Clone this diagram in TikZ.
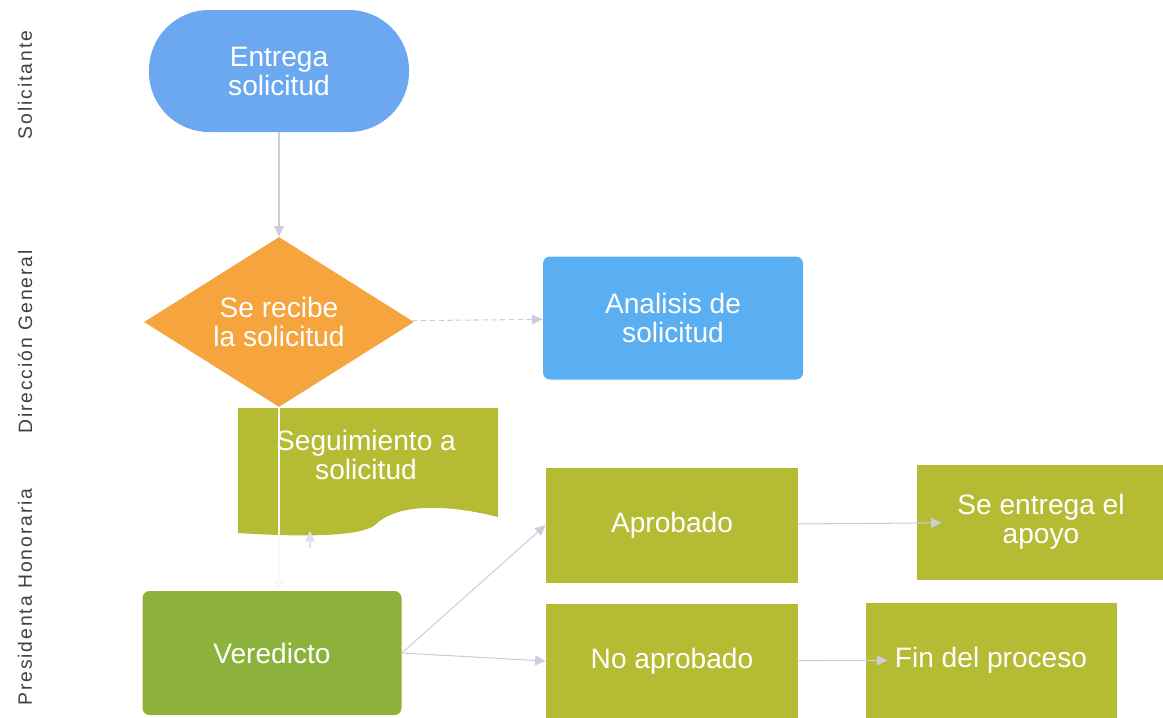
\documentclass[tikz,border=0pt]{standalone}
\usepackage{fontspec}
\setmainfont{Liberation Sans}
\usetikzlibrary{shapes.geometric,arrows.meta}
\definecolor{azul}{HTML}{6CA8F0}
\definecolor{celeste}{HTML}{5AAEF2}
\definecolor{naranja}{HTML}{F5A43E}
\definecolor{oliva}{HTML}{B6BB34}
\definecolor{verde}{HTML}{8DB23C}
\definecolor{gris}{HTML}{CDCDDE}
\begin{document}
\begin{tikzpicture}[caja/.style={rectangle,fill=oliva,text=white,minimum width=5.04cm,minimum height=2.3cm,align=center,inner sep=0pt,font=\fontsize{16}{16.5}\selectfont},
    flecha/.style={-{Triangle[length=6pt,width=5.5pt]},draw=gris,line width=0.6pt},
    carril/.style={rotate=90,text=black!75,font=\fontsize{11}{13}\selectfont\addfontfeature{LetterSpace=10}}]
    \useasboundingbox (0,0) rectangle (23.26,-14.34);

    \node[carril] (l1) at (0.5,-1.7) {Solicitante};
    \node[carril] (l2) at (0.5,-6.84) {Dirección General};
    \node[carril] (l3) at (0.5,-11.94) {Presidenta Honoraria};

    \node[caja,fill=azul,minimum width=5.2cm,minimum height=2.44cm,rounded corners=1.2cm] (ent) at (5.58,-1.42) {Entrega\\solicitud};
    \node[caja,fill=naranja,diamond,aspect=1.59,minimum width=5.4cm,minimum height=3.4cm] (rec) at (5.58,-6.44) {Se recibe\\la solicitud};
    \node[caja,fill=celeste,minimum width=5.2cm,minimum height=2.46cm,rounded corners=4pt] (ana) at (13.46,-6.36) {Analisis de\\solicitud};

    % documento con borde ondulado
    \fill[oliva] (4.76,-8.16) -- (9.96,-8.16) -- (9.96,-10.34)
        .. controls (8.8,-10.05) and (7.9,-10.1) .. (7.5,-10.5)
        .. controls (7.2,-10.74) and (6.0,-10.74) .. (4.76,-10.66) -- cycle;
    \node[caja,fill=none,minimum width=0pt,minimum height=0pt] (seg) at (7.32,-9.1) {Seguimiento a\\solicitud};
    \coordinate (segb) at (6.2,-10.62);
    \coordinate (sega) at (6.2,-10.95);

    \node[caja,fill=verde,minimum width=5.18cm,minimum height=2.48cm,rounded corners=4pt] (ver) at (5.44,-13.06) {Veredicto};
    \node[caja] (apr) at (13.44,-10.5) {Aprobado};
    \node[caja] (noa) at (13.44,-13.22) {No aprobado};
    \node[caja,minimum width=4.96cm] (sent) at (20.82,-10.44) {Se entrega el\\apoyo};
    \node[caja,minimum width=5.02cm] (fin) at (19.82,-13.2) {Fin del proceso};

    \draw[flecha] (ent) to (rec);
    \draw[flecha,densely dashed] (rec) to (ana);
    \draw[flecha,draw=white!85!gris] (rec.south) to (rec.south |- ver.north);
    \draw[flecha,draw=white!40!gris] (sega) to (segb);
    \draw[flecha] (ver.east) to (apr.west);
    \draw[flecha] (ver.east) to (noa.west);
    \draw[flecha,shorten >=-0.5cm] (apr) to (sent);
    \draw[flecha,shorten >=-0.45cm] (noa) to (fin);
\end{tikzpicture}
\end{document}
